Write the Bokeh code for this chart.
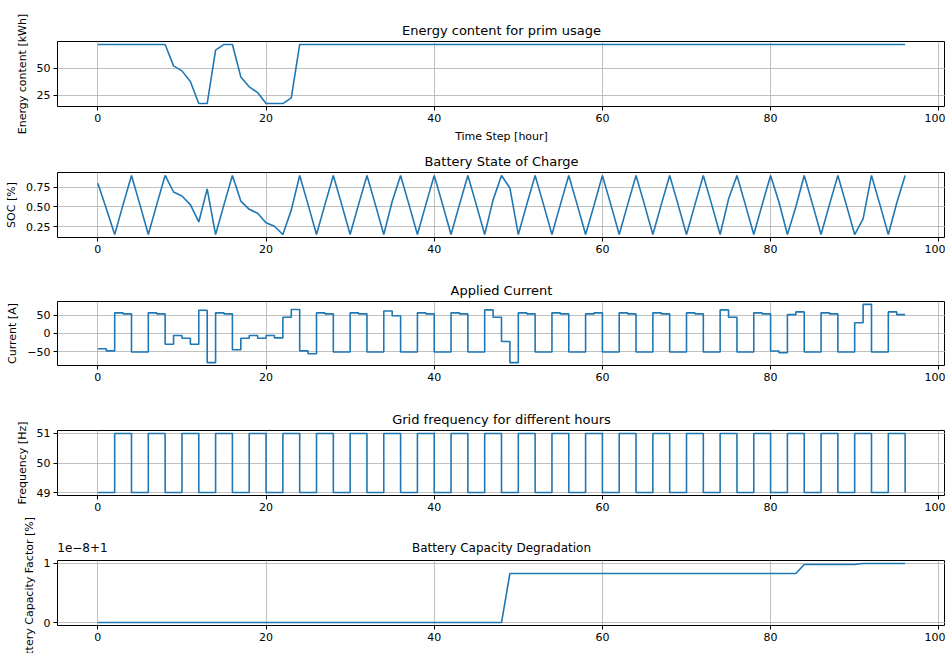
from bokeh.plotting import figure
from bokeh.layouts import column
from bokeh.models import (Range1d, FixedTicker, NumeralTickFormatter, CustomJSTickFormatter,
                          LinearAxis)
from bokeh.embed import file_html
from bokeh.resources import INLINE

# ---------------- data ----------------
hours = [0, 1, 2, 3, 4, 5, 6, 7, 8, 9, 10, 11, 12, 13, 14, 15, 16, 17, 18, 19,
         20, 21, 22, 23, 24, 25, 26, 27, 28, 29, 30, 31, 32, 33, 34, 35, 36, 37, 38, 39,
         40, 41, 42, 43, 44, 45, 46, 47, 48, 49, 50, 51, 52, 53, 54, 55, 56, 57, 58, 59,
         60, 61, 62, 63, 64, 65, 66, 67, 68, 69, 70, 71, 72, 73, 74, 75, 76, 77, 78, 79,
         80, 81, 82, 83, 84, 85, 86, 87, 88, 89, 90, 91, 92, 93, 94, 95, 96]

energy_kwh = [72, 72, 72, 72, 72, 72, 72, 72, 72, 52.1, 47.5, 37.6, 17.2, 17.2, 66.7, 72, 72, 41.9, 32.7, 27.4,
              17.2, 17.2, 17.2, 22.5, 72, 72, 72, 72, 72, 72, 72, 72, 72, 72, 72, 72, 72, 72, 72, 72,
              72, 72, 72, 72, 72, 72, 72, 72, 72, 72, 72, 72, 72, 72, 72, 72, 72, 72, 72, 72,
              72, 72, 72, 72, 72, 72, 72, 72, 72, 72, 72, 72, 72, 72, 72, 72, 72, 72, 72, 72,
              72, 72, 72, 72, 72, 72, 72, 72, 72, 72, 72, 72, 72, 72, 72, 72, 72]

soc = [0.80, 0.48, 0.15, 0.53, 0.90, 0.53, 0.15, 0.53, 0.90, 0.69, 0.64, 0.53, 0.31, 0.73, 0.15, 0.53, 0.90, 0.575, 0.47, 0.42,
       0.30, 0.255, 0.15, 0.46, 0.90, 0.53, 0.15, 0.53, 0.90, 0.53, 0.15, 0.53, 0.90, 0.53, 0.15, 0.57, 0.90, 0.53, 0.15, 0.53,
       0.90, 0.53, 0.15, 0.53, 0.90, 0.53, 0.15, 0.59, 0.90, 0.74, 0.15, 0.53, 0.90, 0.53, 0.15, 0.53, 0.90, 0.53, 0.15, 0.52,
       0.90, 0.53, 0.15, 0.53, 0.90, 0.53, 0.15, 0.53, 0.90, 0.53, 0.15, 0.53, 0.90, 0.53, 0.15, 0.60, 0.90, 0.53, 0.15, 0.53,
       0.90, 0.56, 0.15, 0.50, 0.90, 0.53, 0.15, 0.53, 0.90, 0.53, 0.15, 0.35, 0.90, 0.53, 0.15, 0.55, 0.90]

# current held during each hour [i, i+1)
current_a = [-42, -48, 56, 53, -51, -51, 56, 53, -30, -6, -13.5, -30, 63, -80, 56, 53, -45, -13.5, -6, -13.5,
             -6, -12.5, 44, 65, -48, -56, 56, 53, -51, -51, 56, 53, -51, -51, 61, 48, -51, -51, 56, 53,
             -51, -51, 56, 53, -51, -51, 64, 44, -22.5, -80, 56, 53, -51, -51, 56, 53, -51, -51, 53, 56,
             -51, -51, 56, 53, -51, -51, 56, 53, -51, -51, 56, 53, -51, -51, 64, 44, -51, -51, 56, 53,
             -48.5, -53, 51, 58.5, -51, -51, 56, 53, -51, -51, 29, 79, -51, -51, 58.5, 51]

grid_freq_hz = [49, 49, 51, 51, 49, 49, 51, 51, 49, 49, 51, 51, 49, 49, 51, 51, 49, 49, 51, 51,
                49, 49, 51, 51, 49, 49, 51, 51, 49, 49, 51, 51, 49, 49, 51, 51, 49, 49, 51, 51,
                49, 49, 51, 51, 49, 49, 51, 51, 49, 49, 51, 51, 49, 49, 51, 51, 49, 49, 51, 51,
                49, 49, 51, 51, 49, 49, 51, 51, 49, 49, 51, 51, 49, 49, 51, 51, 49, 49, 51, 51,
                49, 49, 51, 51, 49, 49, 51, 51, 49, 49, 51, 51, 49, 49, 51, 51, 49]

# capacity factor expressed as (value - 1) / 1e-8
capacity_offset_1e8 = [0, 0, 0, 0, 0, 0, 0, 0, 0, 0, 0, 0, 0, 0, 0, 0, 0, 0, 0, 0,
                       0, 0, 0, 0, 0, 0, 0, 0, 0, 0, 0, 0, 0, 0, 0, 0, 0, 0, 0, 0,
                       0, 0, 0, 0, 0, 0, 0, 0, 0, 0.83, 0.83, 0.83, 0.83, 0.83, 0.83, 0.83, 0.83, 0.83, 0.83, 0.83,
                       0.83, 0.83, 0.83, 0.83, 0.83, 0.83, 0.83, 0.83, 0.83, 0.83, 0.83, 0.83, 0.83, 0.83, 0.83, 0.83, 0.83, 0.83, 0.83, 0.83,
                       0.83, 0.83, 0.83, 0.83, 0.983, 0.983, 0.983, 0.983, 0.983, 0.983, 0.983, 1.0, 1.0, 1.0, 1.0, 1.0, 1.0]
capacity_offset_text = "1e\u22128+1"

x_ticks = [0, 20, 40, 60, 80, 100]
energy_ticks = [25, 50]
soc_ticks = [0.25, 0.5, 0.75]
current_ticks = [-50, 0, 50]
freq_ticks = [49, 50, 51]
capacity_ticks = [0, 1]

# ---------------- styling ----------------
FONT = "DejaVu Sans"
LINE = "#1f77b4"
GRID = "#b0b0b0"
LEFT = 57
FRAME_W = 888


def padded(lo, hi):
    m = (hi - lo) * 0.05
    return Range1d(lo - m, hi + m)


def style_axis(ax):
    ax.axis_line_color = None
    ax.major_tick_in = 0
    ax.major_tick_out = 4
    ax.major_tick_line_color = "black"
    ax.major_tick_line_width = 1
    ax.minor_tick_line_color = None
    ax.major_label_standoff = 3
    ax.major_label_text_font = FONT
    ax.major_label_text_font_size = "11px"
    ax.major_label_text_color = "black"
    ax.axis_label_text_font = FONT
    ax.axis_label_text_font_size = "11px"
    ax.axis_label_text_font_style = "normal"
    ax.axis_label_text_color = "black"
    ax.axis_label_standoff = 5


def make_fig(title, ylabel, yvals, yticks, top, frame_h, bottom, xlabel=None):
    p = figure(output_backend="svg", toolbar_location=None,
               frame_width=FRAME_W, frame_height=frame_h,
               min_border_left=LEFT, min_border_right=0,
               min_border_top=top, min_border_bottom=bottom,
               x_range=padded(min(hours), max(hours)),
               y_range=padded(min(yvals), max(yvals)),
               title=title)
    if title is not None:
        p.title.align = "center"
        p.title.text_font = FONT
        p.title.text_font_size = "13px"
        p.title.text_font_style = "normal"
        p.title.text_color = "black"
        p.title.standoff = 8
    p.outline_line_color = "black"
    p.outline_line_width = 1
    p.background_fill_color = "white"
    p.border_fill_color = "white"
    style_axis(p.xaxis[0])
    style_axis(p.yaxis[0])
    p.xaxis.ticker = FixedTicker(ticks=x_ticks)
    p.yaxis.ticker = FixedTicker(ticks=yticks)
    p.yaxis.axis_label = ylabel
    if xlabel:
        p.xaxis.axis_label = xlabel
    for g in (p.xgrid[0], p.ygrid[0]):
        g.grid_line_color = GRID
        g.grid_line_width = 0.8
    return p


p1 = make_fig("Energy content for prim usage", "Energy content [kWh]", energy_kwh, energy_ticks,
              41, 65, 38, xlabel="Time Step [hour]")
p1.line(hours, energy_kwh, line_color=LINE, line_width=1.6)

p2 = make_fig("Battery State of Charge", "SOC [%]", soc, soc_ticks, 27, 65, 34)
p2.yaxis.formatter = NumeralTickFormatter(format="0.00")
p2.line(hours, soc, line_color=LINE, line_width=1.6)

current_steps = current_a + [current_a[-1]]
p3 = make_fig("Applied Current", "Current [A]", current_a, current_ticks, 30, 64, 36)
p3.yaxis.formatter = CustomJSTickFormatter(
    code="return tick < 0 ? '\\u2212' + Math.abs(tick) : String(tick);")
p3.step(hours, current_steps, mode="after", line_color=LINE, line_width=1.6)

p4 = make_fig("Grid frequency for different hours", "Frequency [Hz]", grid_freq_hz, freq_ticks, 29, 65, 20)
p4.step(hours, grid_freq_hz, mode="after", line_color=LINE, line_width=1.6)

# last panel: the title and the matplotlib-style offset text share one row above the frame
p5 = make_fig(None, "Battery Capacity Factor [%]", capacity_offset_1e8,
              capacity_ticks, 45, 65, 29)
p5.line(hours, capacity_offset_1e8, line_color=LINE, line_width=1.6)
xs, xe = p5.x_range.start, p5.x_range.end
px_per_unit = FRAME_W / (xe - xs)
title_pos = (xs + xe) / 2.0
offset_pos = xs + 25.0 / px_per_unit
top_axis = LinearAxis(ticker=FixedTicker(ticks=[offset_pos, title_pos]),
                      major_label_overrides={offset_pos: capacity_offset_text,
                                             title_pos: "Battery Capacity Degradation"})
style_axis(top_axis)
top_axis.major_tick_line_color = None
top_axis.major_tick_out = 0
top_axis.major_label_standoff = 6
top_axis.major_label_text_font_size = "12px"
p5.add_layout(top_axis, "above")

layout = column(p1, p2, p3, p4, p5, spacing=0)

with open("out.html", "w", encoding="utf-8") as f:
    f.write(file_html(layout, INLINE))
